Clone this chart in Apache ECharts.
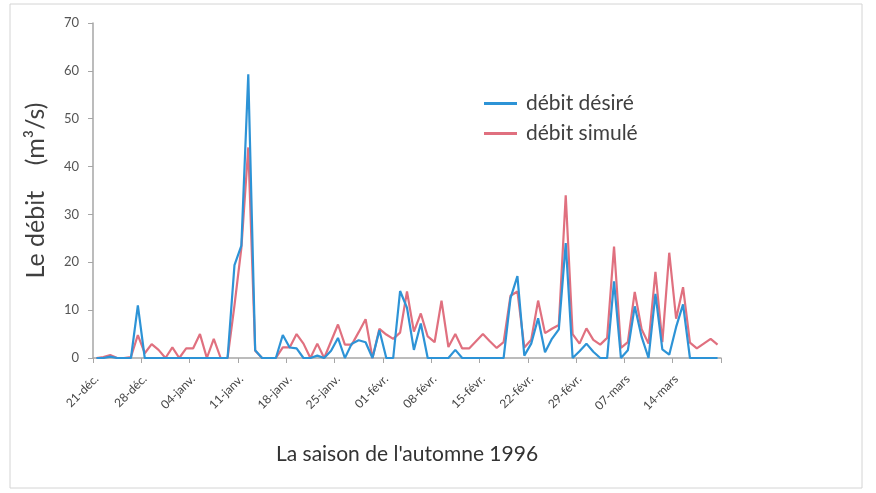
<!DOCTYPE html>
<html>
<head>
<meta charset="utf-8">
<script src="https://cdn.jsdelivr.net/npm/echarts@6/dist/echarts.min.js"></script>
<style>
  html, body { margin: 0; padding: 0; background: #ffffff; }
  #chart { width: 876px; height: 493px; }
</style>
</head>
<body>
<div id="chart"></div>
<script>
// Daily dates, 21 Dec 1996 to 20 Mar 1997
const categories = [
  '21-déc.','22-déc.','23-déc.','24-déc.','25-déc.','26-déc.','27-déc.','28-déc.','29-déc.','30-déc.','31-déc.',
  '01-janv.','02-janv.','03-janv.','04-janv.','05-janv.','06-janv.','07-janv.','08-janv.','09-janv.','10-janv.',
  '11-janv.','12-janv.','13-janv.','14-janv.','15-janv.','16-janv.','17-janv.','18-janv.','19-janv.','20-janv.',
  '21-janv.','22-janv.','23-janv.','24-janv.','25-janv.','26-janv.','27-janv.','28-janv.','29-janv.','30-janv.','31-janv.',
  '01-févr.','02-févr.','03-févr.','04-févr.','05-févr.','06-févr.','07-févr.','08-févr.','09-févr.','10-févr.',
  '11-févr.','12-févr.','13-févr.','14-févr.','15-févr.','16-févr.','17-févr.','18-févr.','19-févr.','20-févr.',
  '21-févr.','22-févr.','23-févr.','24-févr.','25-févr.','26-févr.','27-févr.','28-févr.','29-févr.',
  '01-mars','02-mars','03-mars','04-mars','05-mars','06-mars','07-mars','08-mars','09-mars','10-mars',
  '11-mars','12-mars','13-mars','14-mars','15-mars','16-mars','17-mars','18-mars','19-mars','20-mars'
];

// Desired discharge (m3/s)
const debitDesire = [
  0, 0, 0.3, 0, 0, 0, 11, 0, 0, 0,
  0, 0, 0, 0, 0, 0, 0, 0, 0, 0,
  19.4, 23.5, 59.3, 1.6, 0, 0, 0, 4.8, 2.2, 2,
  0, 0, 0.5, 0, 1.5, 4.2, 0, 3, 3.7, 3.3,
  0, 5.8, 0, 0, 14, 10.5, 1.7, 7.2, 0, 0,
  0, 0, 1.7, 0, 0, 0, 0, 0, 0, 0,
  12.5, 17.1, 0.5, 3, 8.3, 1.2, 4, 6, 24, 0,
  1.4, 3, 1.3, 0, 0, 16, 0, 1.6, 10.8, 4.4,
  0, 13.4, 1.8, 0.7, 6.5, 11.2, 0, 0, 0, 0,
  0
];

// Simulated discharge (m3/s)
const debitSimule = [
  0, 0.2, 0.6, 0, 0, 0.2, 4.8, 1, 2.9, 1.7,
  0, 2.2, 0, 2, 2, 5, 0, 4, 0, 0,
  11, 23, 44, 1.5, 0, 0, 0, 2.2, 2.2, 5,
  3, 0, 3, 0, 3.5, 7, 2.8, 2.8, 5.4, 8.1,
  0, 6.1, 4.9, 4, 5.3, 13.9, 5.5, 9.3, 4.5, 3.3,
  12, 2.3, 5, 2, 2, 3.5, 5, 3.5, 2.1, 3.3,
  13, 13.9, 2.2, 3.8, 12, 5.2, 6.1, 6.9, 34, 5,
  3, 6.2, 3.8, 2.8, 4.2, 23.3, 2.1, 3.3, 13.8, 6,
  3, 18, 3.3, 22, 8.2, 14.8, 3.2, 2, 3, 4,
  2.8
];

const yTicks = { min: 0, max: 70, interval: 10 };

const FONT = 'Lato, "Open Sans", sans-serif';
const BLUE = '#2d93d6';
const RED = '#e0707f';

const chart = echarts.init(document.getElementById('chart'), null, { renderer: 'canvas' });

chart.setOption({
  backgroundColor: '#ffffff',
  animation: false,
  textStyle: { fontFamily: FONT },
  graphic: [{
    type: 'rect',
    shape: { x: 10, y: 4, width: 852, height: 484 },
    style: { fill: 'none', stroke: '#d4d4d4', lineWidth: 1 },
    silent: true
  }],
  grid: { left: 93, right: 155, top: 23, bottom: 135, containLabel: false },
  legend: {
    orient: 'vertical',
    left: 479,
    top: 88,
    itemGap: 9,
    itemWidth: 33,
    itemHeight: 3,
    icon: 'rect',
    textStyle: {
      fontFamily: FONT, fontSize: 21, lineHeight: 21, color: '#404040',
      padding: [0, 0, 0, 4]
    },
    data: ['débit désiré', 'débit simulé']
  },
  xAxis: {
    type: 'category',
    data: categories,
    boundaryGap: true,
    name: "La saison de l'automne 1996",
    nameLocation: 'middle',
    nameGap: 86,
    nameTextStyle: { fontFamily: FONT, fontSize: 21, color: '#333333' },
    axisLine: { lineStyle: { color: '#a6a6a6', width: 1.5 } },
    axisTick: { show: true, interval: 6, length: 5, lineStyle: { color: '#a6a6a6' } },
    axisLabel: {
      interval: 6,
      rotate: 45,
      fontSize: 12,
      color: '#454545',
      fontFamily: FONT,
      margin: 19
    },
    splitLine: { show: false }
  },
  yAxis: {
    type: 'value',
    min: yTicks.min,
    max: yTicks.max,
    interval: yTicks.interval,
    name: 'Le débit    (m³/s)',
    nameLocation: 'middle',
    nameGap: 45,
    nameRotate: 90,
    nameTextStyle: { fontFamily: FONT, fontSize: 25, color: '#404040' },
    axisLine: { show: true, lineStyle: { color: '#a6a6a6', width: 1.5 } },
    axisTick: { show: true, length: 5, lineStyle: { color: '#a6a6a6' } },
    axisLabel: { fontSize: 13, color: '#555555', fontFamily: FONT, margin: 14 },
    splitLine: { show: false }
  },
  series: [
    {
      name: 'débit désiré',
      type: 'line',
      data: debitDesire,
      showSymbol: false,
      symbol: 'none',
      lineStyle: { color: BLUE, width: 2.2 },
      itemStyle: { color: BLUE },
      z: 3
    },
    {
      name: 'débit simulé',
      type: 'line',
      data: debitSimule,
      showSymbol: false,
      symbol: 'none',
      lineStyle: { color: RED, width: 2.2 },
      itemStyle: { color: RED },
      z: 2
    }
  ]
});
</script>
</body>
</html>
